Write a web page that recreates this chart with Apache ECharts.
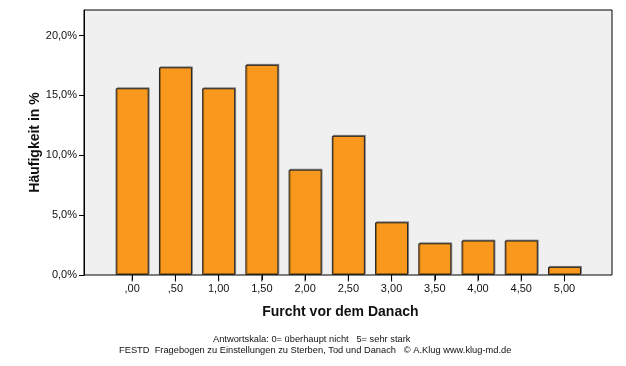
<!DOCTYPE html>
<html><head><meta charset="utf-8">
<script src="https://cdn.jsdelivr.net/npm/echarts@6/dist/echarts.min.js"></script>
<style>html,body{margin:0;padding:0;background:#fff}#c{width:626px;height:366px}</style>
</head><body><div id="c"></div>
<script>
const categories = [',00', ',50', '1,00', '1,50', '2,00', '2,50', '3,00', '3,50', '4,00', '4,50', '5,00'];
const percentValues = [15.6, 17.35, 15.6, 17.56, 8.8, 11.63, 4.4, 2.65, 2.88, 2.88, 0.68];
const yTicks = [0, 5, 10, 15, 20];
const xTitle = 'Furcht vor dem Danach';
const yTitle = 'Häufigkeit in %';
const footer1 = 'Antwortskala: 0= überhaupt nicht   5= sehr stark';
const footer2 = 'FESTD  Fragebogen zu Einstellungen zu Sterben, Tod und Danach   \u00A9 A.Klug www.klug-md.de';

const font = 'Liberation Sans, Arial, sans-serif';
const yMax = 22.14;
const chart = echarts.init(document.getElementById('c'));
chart.setOption({
  animation: false,
  backgroundColor: '#fff',
  grid: [
    { left: 84, top: 10, right: 14, bottom: 91, show: true, backgroundColor: '#F0F0F0', borderColor: '#000', borderWidth: 1 },
    { left: 110.6, top: 10, right: 39.9, bottom: 91 }
  ],
  xAxis: [
    { gridIndex: 0, type: 'value', min: 0, max: 1, show: false },
    {
      gridIndex: 1, type: 'category', data: categories, z: 10,
      axisLine: { show: false },
      axisTick: { show: true, inside: false, alignWithLabel: true, length: 5, lineStyle: { color: '#000', width: 1 } },
      axisLabel: { color: '#111', fontSize: 11, fontFamily: font, margin: 8 },
      name: xTitle, nameLocation: 'middle', nameGap: 30, nameMoveOverlap: false,
      nameTextStyle: { fontSize: 14, fontWeight: 'bold', fontFamily: font, color: '#111', padding: [0, 16, 0, 0] }
    }
  ],
  yAxis: [
    {
      gridIndex: 0, type: 'value', min: 0, max: yMax,
      splitLine: { show: false },
      axisLine: { show: true, onZero: false, lineStyle: { color: '#000', width: 1 } },
      axisTick: { show: true, inside: false, length: 5, lineStyle: { color: '#000' }, customValues: yTicks },
      axisLabel: { customValues: yTicks, formatter: v => v.toFixed(1).replace('.', ',') + '%', color: '#111', fontSize: 11, fontFamily: font, margin: 7 },
      name: yTitle, nameLocation: 'middle', nameGap: 49, nameMoveOverlap: false,
      nameTextStyle: { fontSize: 14, fontWeight: 'bold', fontFamily: font, color: '#111', verticalAlign: 'middle' }
    },
    { gridIndex: 1, type: 'value', min: 0, max: yMax, show: false, splitLine: { show: false } }
  ],
  series: [{
    type: 'bar', xAxisIndex: 1, yAxisIndex: 1,
    data: percentValues,
    barWidth: 33,
    itemStyle: { color: '#F8991D', borderColor: '#222', borderWidth: 1, shadowColor: 'rgba(0,0,0,0.35)', shadowOffsetX: 1, shadowOffsetY: -1 }
  }, {
    type: 'scatter', xAxisIndex: 1, yAxisIndex: 1, clip: false, silent: true, z: 5,
    data: categories.map(c => [c, 0]),
    symbol: 'rect', symbolSize: [1, 6], symbolOffset: [0, 3.5],
    itemStyle: { color: '#000', opacity: 1 }
  }],
  graphic: [
    { type: 'text', left: 213, top: 335, style: { text: footer1, font: '9.3px ' + font, fill: '#111' } },
    { type: 'text', left: 119, top: 346, style: { text: footer2, font: '9.3px ' + font, fill: '#111' } }
  ]
});
</script></body></html>
